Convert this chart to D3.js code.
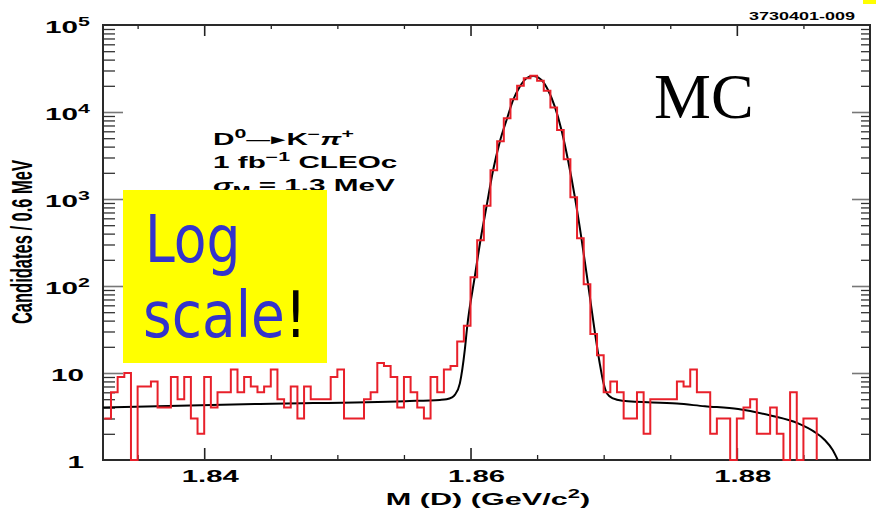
<!DOCTYPE html>
<html><head><meta charset="utf-8">
<script src="https://cdn.jsdelivr.net/npm/d3@7"></script>
<style>body{margin:0;background:#fff}svg{display:block}</style>
</head><body>
<script>
// ---------- data ----------
const binStart = 1.8325, binWidth = 0.0005;
const counts = [3,6,9,10,1,7,7,8,4,4,9,5,9,3,2,9,4,6,6,11,6,9,7,6,7,11,5,4,7,3,
  7,5,5,5,9,11,3,3,3,5,6,13,12,9,4,9,6,4,3,9,6,11,12,23,35,126,335,837,2140,4600,
  8470,14000,20000,24400,26150,22900,17600,11300,6210,2860,1046,353,105,28,16,6,8,6,3,3,
  6,2,5,5,5,5,8,7,11,6,6,2,3,3,1,3,4,5,2,2,4,2,1,6,1,3,3];
const fitMass = [1.8324,1.8438,1.8551,1.8577,1.8582,1.85857,1.85882,1.8592,1.85957,1.85975,
  1.86032,1.86075,1.8612,1.8617,1.8622,1.86275,1.8632,1.8637,1.8642,1.8647,1.86533,1.86582,
  1.86633,1.86683,1.86732,1.86783,1.86833,1.86882,1.86935,1.8697,1.8700,1.87025,1.8707,1.8714,
  1.8755,1.8776,1.8801,1.8826,1.8846,1.8858,1.8866,1.8872,1.88758];
const fitValue = [4.0,4.4,4.75,4.9,4.98,5.2,5.6,7.6,18.4,34,128,338,816,2154,4560,8465,13740,
  19530,24400,25930,23340,17900,11510,6210,2807,1063,353,107,28.6,13,7.5,5.8,5.1,4.8,
  4.45,4.15,3.85,3.23,2.64,2.12,1.70,1.30,1.0];
const xMajor = [1.84,1.86,1.88];
const xMajorLabels = ["1.84","1.86","1.88"];
const xMinor = [1.835,1.845,1.85,1.855,1.865,1.87,1.875,1.885];
const yMajor = [1,10,100,1000,10000,100000];
const yLabelBase = ["1","10","10","10","10","10"];
const yLabelExp = ["","","2","3","4","5"];

// ---------- setup ----------
const W=876,H=508, L=103,R=870,T=25,B=460;
const SX=1.8;
const FONT="'Liberation Sans', Arial, Helvetica, sans-serif";
const svg=d3.select("body").append("svg").attr("width",W).attr("height",H);
svg.append("rect").attr("width",W).attr("height",H).attr("fill","#fff");
const x=d3.scaleLinear().domain([1.8324,1.89]).range([L,R]);
const y=d3.scaleLog().domain([1,1e5]).range([B,T]);
const yMinor=[];
[1,10,100,1000,10000].forEach(d=>{for(let k=2;k<=9;k++) yMinor.push(d*k);});

// ---------- ticks via axes ----------
function styleAxis(g,col,w){g.select(".domain").remove();g.selectAll("line").attr("stroke",col).attr("stroke-width",w);g.selectAll("text").remove();}
svg.append("g").attr("transform",`translate(${L},0)`).call(d3.axisLeft(y).tickValues(yMajor.slice(1,5)).tickSize(-20).tickFormat("")).call(styleAxis,"#777",1.6);
svg.append("g").attr("transform",`translate(${L},0)`).call(d3.axisLeft(y).tickValues(yMinor).tickSize(-12).tickFormat("")).call(styleAxis,"#333",1.3);
svg.append("g").attr("transform",`translate(${R},0)`).call(d3.axisRight(y).tickValues(yMajor.slice(1,5)).tickSize(-18).tickFormat("")).call(styleAxis,"#777",1.6);
svg.append("g").attr("transform",`translate(${R},0)`).call(d3.axisRight(y).tickValues(yMinor).tickSize(-9).tickFormat("")).call(styleAxis,"#333",1.3);
svg.append("g").attr("transform",`translate(0,${B})`).call(d3.axisBottom(x).tickValues(xMajor).tickSize(-12).tickFormat("")).call(styleAxis,"#222",1.6);
svg.append("g").attr("transform",`translate(0,${B})`).call(d3.axisBottom(x).tickValues(xMinor).tickSize(-5).tickFormat("")).call(styleAxis,"#222",1.3);
svg.append("g").attr("transform",`translate(0,${T})`).call(d3.axisTop(x).tickValues(xMajor).tickSize(-11).tickFormat("")).call(styleAxis,"#222",1.6);
svg.append("g").attr("transform",`translate(0,${T})`).call(d3.axisTop(x).tickValues(xMinor).tickSize(-4).tickFormat("")).call(styleAxis,"#222",1.3);

// frame
svg.append("rect").attr("x",L).attr("y",T).attr("width",R-L).attr("height",B-T)
  .attr("fill","none").attr("stroke","#2a2a2a").attr("stroke-width",2);

// ---------- fit curve ----------
const fitPts=fitMass.map((m,i)=>[x(m),y(Math.max(fitValue[i],1))]);
svg.append("path").attr("d",d3.line().curve(d3.curveMonotoneX)(fitPts))
  .attr("fill","none").attr("stroke","#000").attr("stroke-width",2);

// ---------- histogram ----------
const p=d3.path();
const cl=v=>y(Math.max(v,1));
p.moveTo(x(binStart),cl(counts[0]));
counts.forEach((c,i)=>{
  const xe=x(binStart+(i+1)*binWidth);
  p.lineTo(xe,cl(c));
  p.lineTo(xe,i+1<counts.length?cl(counts[i+1]):B);
});
svg.append("path").attr("d",p.toString()).attr("fill","none")
  .attr("stroke","#e8202a").attr("stroke-width",2).attr("stroke-linejoin","miter");

// ---------- text helpers ----------
function rich(px,py,anchor,size,parts,extra){
  const t=svg.append("text").attr("transform",`translate(${px},${py}) scale(${SX},1)`+(extra||""))
    .attr("text-anchor",anchor).attr("font-family",FONT).attr("font-weight","bold")
    .attr("font-size",size).attr("fill","#000");
  let shift=0;
  parts.forEach(pt=>{
    const [s,kind,style]=pt;
    let target=0, fs=size;
    if(kind==="sup"){target=-0.42*size;fs=size*0.72;}
    if(kind==="sub"){target=0.25*size;fs=size*0.72;}
    if(kind==="arrow"){target=-0.05*size;fs=size*0.8;}
    const ts=t.append("tspan").text(s).attr("font-size",fs).attr("dy",target-shift);
    if(style) ts.attr("font-style",style);
    if(kind==="arrow") ts.attr("letter-spacing",-2);
    shift=target;
  });
  return t;
}

// x tick labels
xMajor.forEach((d,i)=>rich(x(d)+6,482,"middle",16.3,[[xMajorLabels[i]]]));
// y tick labels
yMajor.forEach((d,i)=>{
  const parts=[[yLabelBase[i]]];
  if(yLabelExp[i]) parts.push([yLabelExp[i],"sup"]);
  rich(yLabelExp[i]?90:84,y(d)+8,"end",16.5,parts);
});
// axis titles
rich(488,505,"middle",17,[["M (D) (GeV/c"],["2","sup"],[")"]]);
rich(32,242,"middle",16.5,[["Candidates / 0.6 MeV"]]," rotate(-90)");
// id
rich(855,20,"end",10,[["3730401-009"]]);
// annotation
rich(213,145,"start",16.5,[["D"],["0","sup"],["\u2014\u25ba","arrow"],["K"],["\u2212","sup"],["\u03c0",null,"italic"],["+","sup"]]);
rich(213,168,"start",16.5,[["1 fb"],["\u22121","sup"],[" CLEOc"]]);
rich(213,191,"start",16.5,[["\u03c3",null,"italic"],["M","sub"],[" = 1.3 MeV"]]);

// MC
svg.append("text").attr("x",654).attr("y",118).attr("font-family","'Liberation Serif','Times New Roman',serif")
  .attr("font-size",64).attr("fill","#000").text("MC");

// yellow note
svg.append("rect").attr("x",123).attr("y",190).attr("width",204).attr("height",173).attr("fill","#ffff00");
svg.append("rect").attr("x",863).attr("y",0).attr("width",13).attr("height",4).attr("fill","#ffff00");
const NF="'DejaVu Sans', sans-serif";
svg.append("text").attr("transform","translate(145,262) scale(0.81,1)").attr("font-family",NF)
  .attr("font-size",66).attr("fill","#3333cc").text("Log");
const sc=svg.append("text").attr("transform","translate(143,337) scale(0.86,1)").attr("font-family",NF)
  .attr("font-size",64).attr("fill","#3333cc");
sc.append("tspan").text("scale");
sc.append("tspan").attr("fill","#000").text("!");
</script>
</body></html>
